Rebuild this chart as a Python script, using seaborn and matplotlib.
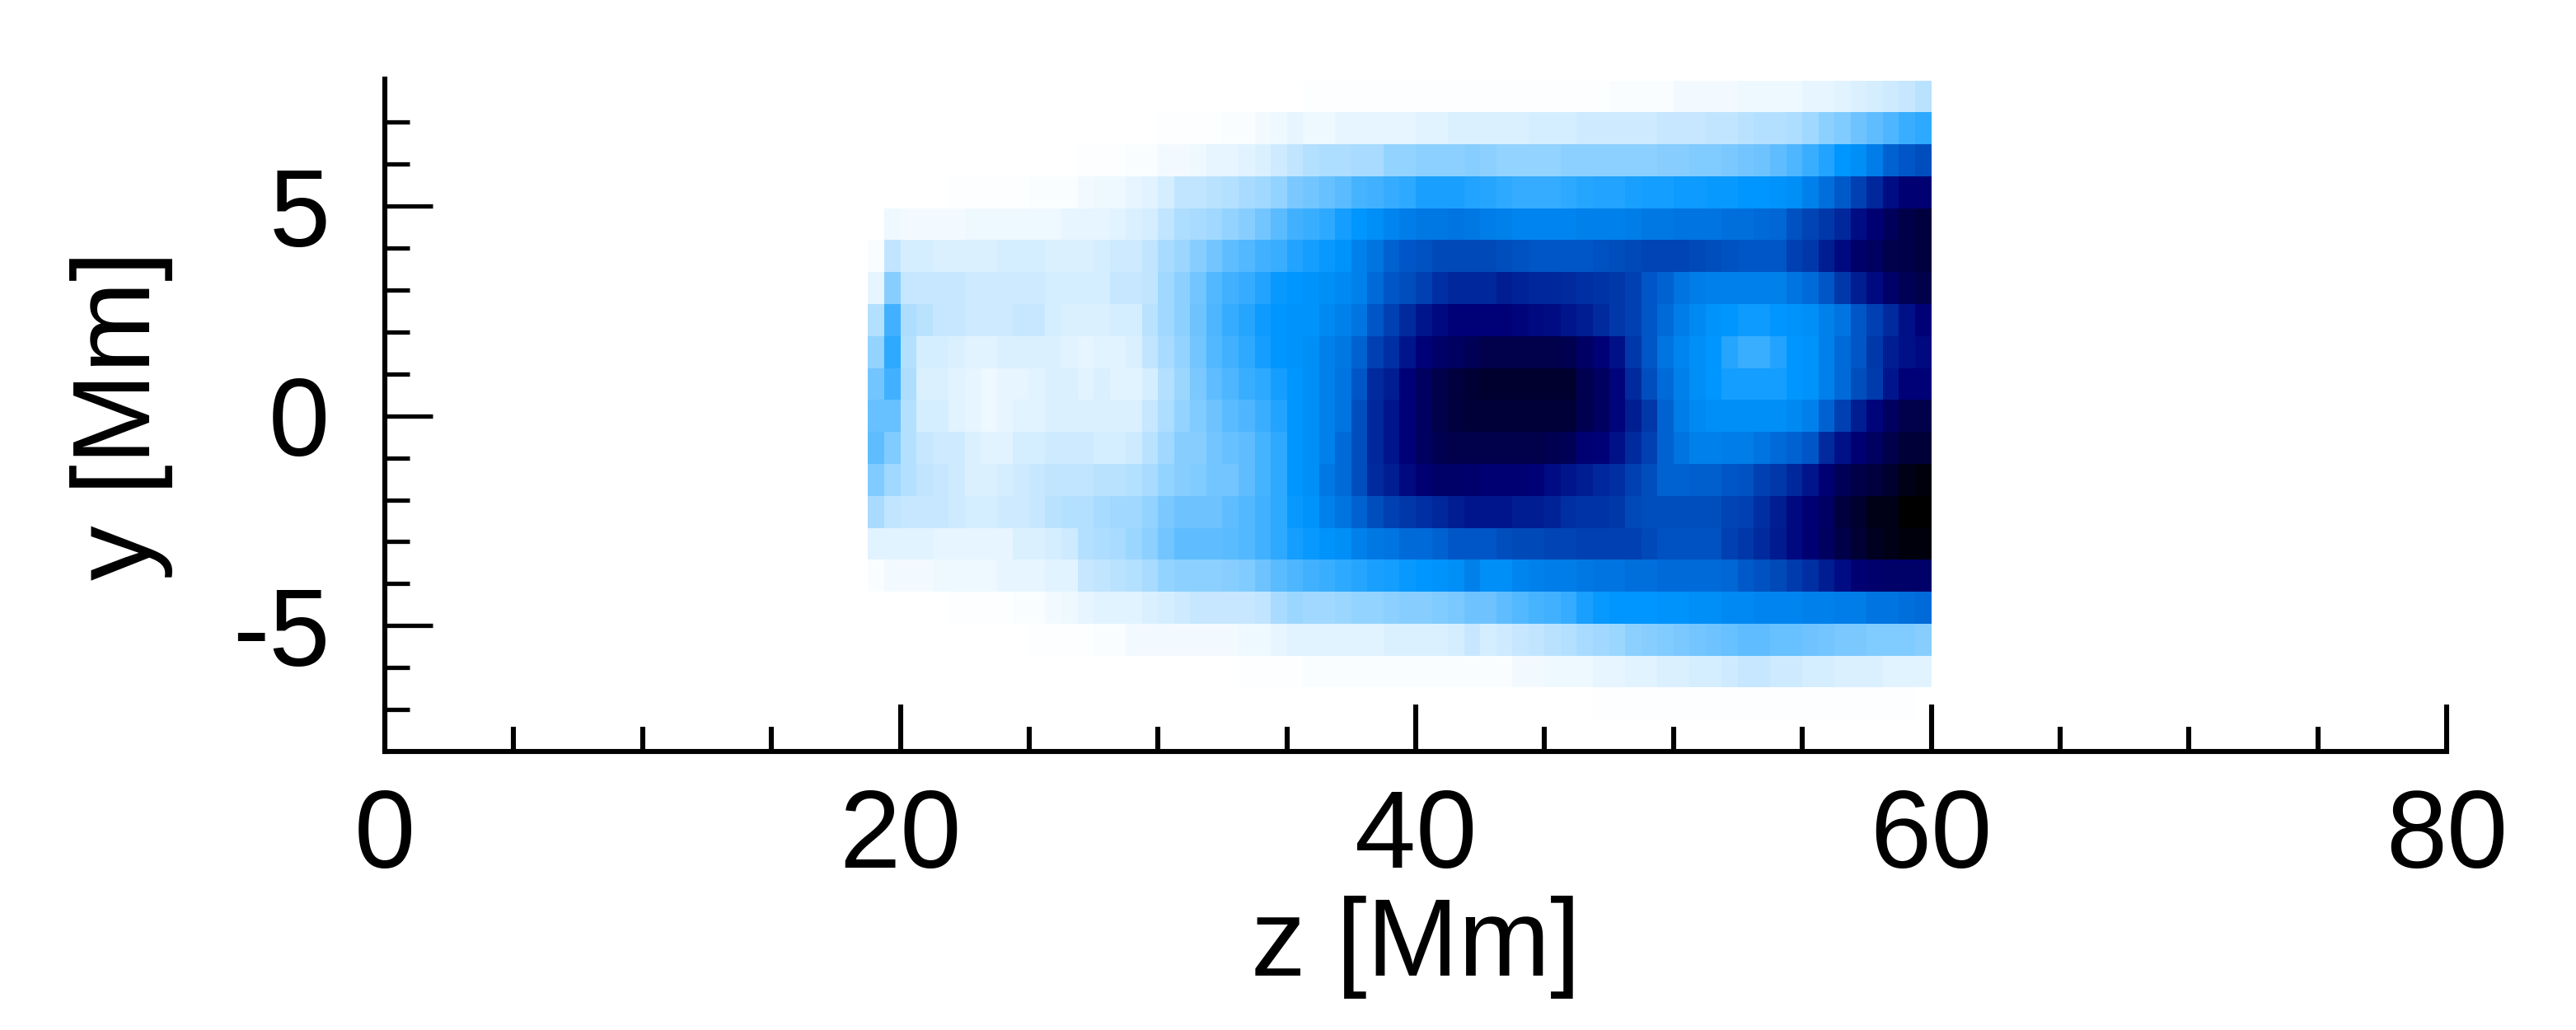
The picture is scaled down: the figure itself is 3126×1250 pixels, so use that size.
import numpy as np
import pandas as pd
import seaborn as sns
import matplotlib.pyplot as plt
from matplotlib.colors import LinearSegmentedColormap
from matplotlib.ticker import FixedLocator

# Cell values (0 = white, 100 = black), top row first
# Columns run from z = 18.75 to z = 60 in steps of 0.625
r0 = [0]*26 + [0.3] + [0.4]*11 + [0.4,0.4,0.5,0.5,0.5,0.6,0.6,0.7,0.8,0.8,1,1,2,2,2,2,3,3,3,3,4,4,5,6,7,8,9,11]
r1 = [0]*18 + [0.5,0.5,0.5,0.6,0.8,1,2,3,4] + [3,3,4,4,4,4,4,5,5,6,6] + [6,6,6,7,7,7,8,8,8,8,8,9,9,9,10,10,11,12,12,13,15,18,20,23,25,28,31,33]
r2 = [0]*13 + [0.5,0.5,0.6,0.8,1,2,2,3,4,4,5,6,8,10] + [12,13,13,14,14,17,17,18,18,18,19] + [18,17,17,17,17,18,18,18,18,18,18,19,19,20,20,21,22,23,25,28,31,35,40,42,46,52,55,57]
r3 = [0]*5 + [0.5,0.5,0.5,0.6,0.6,0.8,1,1,2,3,3,4,5,7,10,10,11,12,14,15,17,21] + [22,24,26,29,30,32,33,36,36,36,35] + [34,33,32,32,32,33,34,35,35,36,37,37,38,38,39,39,40,40,41,42,45,49,54,60,66,72,76,76]
r4 = [0,3,2,2,2,2,3,3,3,3,3,3,4,4,4,5,6,7,10,13,14,15,17,19,22,26,30] + [31,33,37,40,42,44,46,47,47,48,47] + [46,45,44,44,44,44,45,45,45,46,47,47,48,48,48,49,49,50,51,56,59,62,66,72,76,81,85,87]
r5 = [1,10,7,7,6,6,6,6,7,7,7,6,6,6,7,8,8,10,14,16,19,22,25,27,30,31,35] + [37,39,41,45,48,52,55,56,58,58,58] + [58,57,56,55,55,55,55,56,57,58,59,59,59,58,57,56,55,55,55,60,62,68,73,78,80,84,85,87]
r6 = [4,19,9,9,9,9,8,8,8,8,8,7,7,7,7,9,9,10,15,18,22,27,30,32,35,39,40] + [41,42,43,45,50,55,57,60,64,66,66] + [66,68,67,66,66,65,64,63,62,60,55,52,48,46,45,45,45,45,45,48,50,55,62,68,73,78,82,84]
r7 = [12,30,13,11,9,9,8,8,8,9,9,7,6,6,6,7,7,11,15,18,23,28,32,34,38,40,41] + [41,43,45,48,55,60,65,70,73,75,75] + [75,75,74,73,72,70,68,65,62,60,55,50,46,43,41,40,38,38,40,41,42,45,48,55,60,65,71,75]
r8 = [17,33,12,7,7,6,5,5,6,6,6,6,5,4,5,5,6,10,14,17,22,27,30,33,37,40,41] + [42,45,47,52,60,64,70,75,78,80,82] + [84,84,84,84,84,83,79,75,71,62,55,48,44,42,40,34,31,31,35,40,41,45,50,55,62,68,71,73]
r9 = [22,30,13,6,6,5,4,3,4,4,5,6,6,5,6,5,5,7,12,16,21,25,28,31,33,37,40] + [42,45,48,55,65,68,75,80,84,87,89] + [90,90,90,90,90,90,83,80,74,65,57,50,45,42,40,37,37,37,37,40,41,45,50,57,61,70,75,75]
r10 = [24,24,12,7,7,5,4,3,4,5,5,6,6,6,6,6,6,9,13,17,20,23,26,28,31,35,40] + [42,45,48,57,66,70,75,80,84,87,88] + [88,88,88,88,88,88,83,80,74,68,62,52,46,43,42,42,42,42,42,43,45,52,60,68,74,80,84,84]
r11 = [25,20,12,9,8,8,6,5,5,7,7,8,8,8,7,7,8,11,15,19,19,22,24,25,29,33,40] + [42,45,50,57,66,70,75,80,83,84,84] + [84,84,84,84,83,82,76,75,71,65,60,52,48,45,45,46,46,48,50,52,55,65,71,76,80,84,88,88]
r12 = [20,15,12,10,9,8,6,6,7,8,9,10,10,10,11,11,12,14,17,19,20,22,22,25,29,33,40] + [42,47,50,57,65,68,73,76,78,78,77] + [76,76,76,75,72,70,68,66,64,60,57,52,52,53,53,55,56,60,62,66,70,76,82,85,87,90,95,97]
r13 = [14,10,9,9,9,8,7,7,8,8,9,11,12,12,14,15,15,17,21,23,23,23,25,27,30,33,39] + [41,45,48,52,57,60,62,64,66,68,70] + [70,70,68,68,67,64,63,63,62,58,57,57,57,57,57,59,60,64,68,73,76,79,87,90,95,95,100,100]
r14 = [5,5,5,5,4,4,4,4,4,6,6,7,8,12,13,14,16,18,22,25,25,25,26,27,30,33,37] + [39,41,42,45,47,48,50,50,52,55,55] + [55,57,58,58,59,59,60,60,60,60,58,56,56,56,56,60,62,65,69,73,76,80,85,89,93,95,97,97]
r15 = [1,2,2,2,3,3,3,3,4,4,4,5,5,9,10,11,12,14,17,18,18,18,19,20,23,26,28] + [30,31,33,34,36,37,39,40,41,42,45] + [42,42,44,45,46,46,47,48,48,49,49,50,50,50,50,51,54,56,58,61,64,68,72,76,77,78,78,78]
r16 = [0]*5 + [0.5,0.5,0.5,0.6,0.8,1,2,3,4,5,5,5,6,7,8,9,9,9,9,10,14,16] + [15,15,16,17,17,18,19,19,20,21,23] + [23,25,27,29,30,32,36,39,40,40,40,41,41,42,42,43,43,44,44,44,45,45,46,46,48,48,49,50]
r17 = [0]*10 + [0.4,0.5,0.5,0.6,0.8,1,2,2,2,2,2,2,2,3,3,4,5] + [5,5,5,5,5,6,6,6,6,7,9] + [7,8,9,10,11,12,14,15,16,18,19,20,21,22,23,24,25,25,24,24,23,22,21,21,20,20,20,19]
r18 = [0]*23 + [0.5,0.5,0.5,0.6] + [0.8]*11 + [1,1,2,2,3,3,3,4,4,5,5,6,6,7,7,8,9,9,8,8,7,7,6,6,6,5,5,5]
r19 = [0]*45 + [0.5]*20 + [0.3]
r20 = [0]*66

rows = [r0, r1, r2, r3, r4, r5, r6, r7, r8, r9, r10, r11, r12, r13, r14, r15, r16, r17, r18, r19, r20]

z_major = [0, 20, 40, 60, 80]
z_minor = [5, 10, 15, 25, 30, 35, 45, 50, 55, 65, 70, 75]
y_major = [5, 0, -5]
y_labels = ['5', '0', '-5']
y_minor = [7, 6, 4, 3, 2, 1, -1, -2, -3, -4, -6, -7]

dz = 0.625
dy = 16 / 21
z_edges = np.arange(128) * dz

sns.set_style('white')
plt.rcParams['font.family'] = ['Liberation Sans', 'DejaVu Sans']
plt.rcParams['text.color'] = 'k'
plt.rcParams['axes.labelcolor'] = 'k'
plt.rcParams['xtick.labelcolor'] = 'k'
plt.rcParams['ytick.labelcolor'] = 'k'

# Pad the table so the columns line up with the full 0-80 range
data = pd.DataFrame(rows, columns=z_edges[30:96]).reindex(columns=z_edges)

cmap = LinearSegmentedColormap.from_list('blues_black', [
    (0.0, '#ffffff'), (0.40, '#0096ff'), (0.75, '#000078'), (1.0, '#000000')])

fig = plt.figure(figsize=(15.63, 6.25), dpi=200)
ax = fig.add_axes([467 / 3126, 1 - 912 / 1250, 2502 / 3126, 816 / 1250])
sns.heatmap(data, ax=ax, cmap=cmap, vmin=0, vmax=100, cbar=False,
            xticklabels=False, yticklabels=False)

ax.set_xlim(0, 128)
ax.set_ylim(21, -0.04)
ax.set_axisbelow(False)

ax.xaxis.set_major_locator(FixedLocator([v / dz for v in z_major]))
ax.xaxis.set_minor_locator(FixedLocator([v / dz for v in z_minor]))
ax.yaxis.set_major_locator(FixedLocator([(8 - v) / dy for v in y_major]))
ax.yaxis.set_minor_locator(FixedLocator([(8 - v) / dy for v in y_minor]))
ax.set_xticklabels([str(v) for v in z_major])
ax.set_yticklabels(y_labels)

ax.tick_params(axis='x', which='major', direction='in', length=20.5, width=2.2,
               labelsize=48, pad=16, color='k', bottom=True, top=False, labelbottom=True)
ax.tick_params(axis='y', which='major', direction='in', length=21, width=1.9,
               labelsize=48, pad=24, color='k', left=True, right=False, labelleft=True,
               labelrotation=0)
ax.tick_params(axis='x', which='minor', direction='in', length=10.8, width=2.2,
               color='k', bottom=True, top=False)
ax.tick_params(axis='y', which='minor', direction='in', length=10.8, width=1.9,
               color='k', left=True, right=False)

for side in ['top', 'right']:
    ax.spines[side].set_visible(False)
for side in ['left', 'bottom']:
    ax.spines[side].set_visible(True)
    ax.spines[side].set_linewidth(2.2)
    ax.spines[side].set_color('k')

ax.set_xlabel('z [Mm]', fontsize=48, labelpad=2)
ax.set_ylabel('y [Mm]', fontsize=48, labelpad=26)

fig.savefig('out.png', dpi=200)
